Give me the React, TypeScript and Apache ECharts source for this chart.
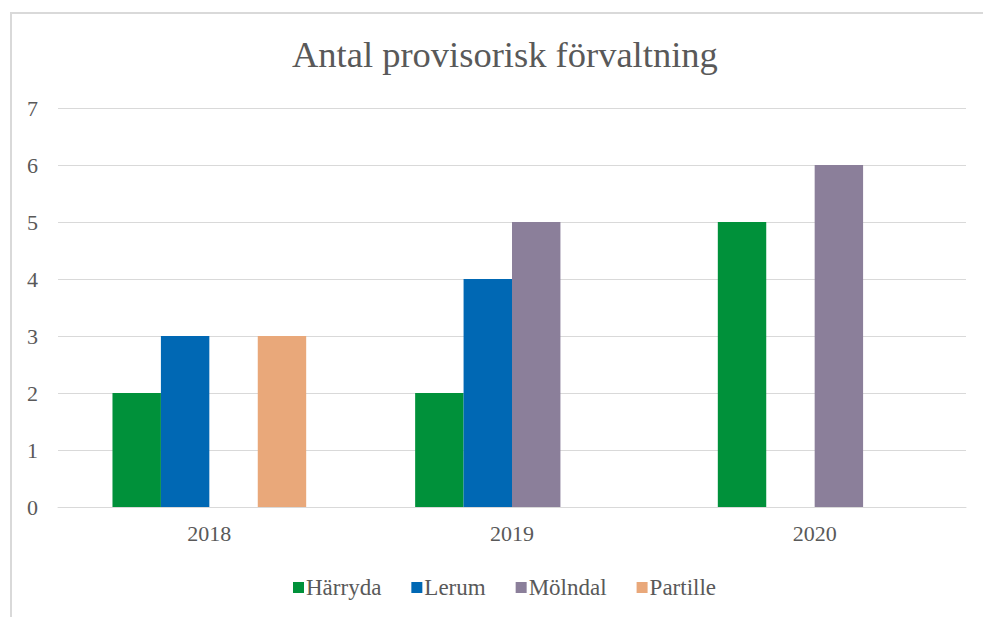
import React, { useEffect, useRef } from "react";
import * as echarts from "echarts";

const title = "Antal provisorisk förvaltning";
const categories = ["2018", "2019", "2020"];
const seriesNames = ["Härryda", "Lerum", "Mölndal", "Partille"];
const harryda = [2, 2, 5];
const lerum = [3, 4, null];
const molndal = [null, 5, 6];
const partille = [3, null, null];
const colors = ["#00913A", "#0068B4", "#8B7F9A", "#E9A87A"];
const yTicks = { min: 0, max: 7, interval: 1 };

const FONT = "Liberation Serif";
const TEXT = "#595959";

export default function App() {
  const ref = useRef<HTMLDivElement>(null);
  useEffect(() => {
    if (!ref.current) return;
    const chart = echarts.init(ref.current, undefined, { renderer: "svg" });
    const values = [harryda, lerum, molndal, partille];
    chart.setOption({
      animation: false,
      backgroundColor: "#ffffff",
      color: colors,
      textStyle: { fontFamily: FONT, color: TEXT },
      title: {
        text: title,
        left: 287,
        top: 31,
        textStyle: { fontFamily: FONT, fontSize: 36.5, fontWeight: "normal", color: TEXT },
      },
      legend: {
        top: 571,
        left: 288,
        itemWidth: 11,
        itemHeight: 11,
        itemGap: 30,
        icon: "rect",
        textStyle: { fontFamily: FONT, fontSize: 23, color: TEXT, padding: [0, 0, 0, -3] },
        data: seriesNames,
      },
      grid: { left: 58, right: 17, top: 108, bottom: 110 },
      xAxis: {
        type: "category",
        data: categories,
        axisLine: { lineStyle: { color: "#d9d9d9", width: 1 } },
        axisTick: { show: false },
        axisLabel: { fontFamily: FONT, fontSize: 22, color: TEXT, margin: 15 },
      },
      yAxis: {
        type: "value",
        min: yTicks.min,
        max: yTicks.max,
        interval: yTicks.interval,
        axisLine: { show: false },
        axisTick: { show: false },
        splitLine: { lineStyle: { color: "#d9d9d9", width: 1 } },
        axisLabel: { fontFamily: FONT, fontSize: 22, color: TEXT, margin: 20 },
      },
      graphic: [
        { type: "line", shape: { x1: 10, y1: 13, x2: 983, y2: 13 }, style: { stroke: "#d9d9d9", lineWidth: 2 } },
        { type: "line", shape: { x1: 11, y1: 12, x2: 11, y2: 617 }, style: { stroke: "#d9d9d9", lineWidth: 2 } },
      ],
      series: seriesNames.map((name, i) => ({
        name,
        type: "bar",
        data: values[i],
        barGap: "0%",
        barCategoryGap: "36%",
        itemStyle: { color: colors[i] },
      })),
    });
    return () => chart.dispose();
  }, []);
  return (
    <div
      ref={ref}
      style={{ position: "fixed", left: 0, top: 0, width: 983, height: 617 }}
    />
  );
}
